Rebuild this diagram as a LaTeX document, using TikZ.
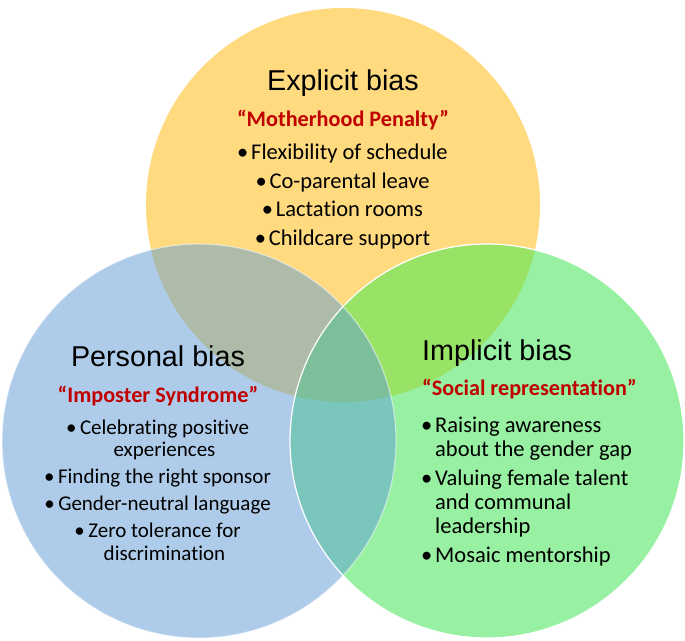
\documentclass[tikz,border=0pt]{standalone}
\usepackage{fontspec}
\setmainfont{Carlito}[Ligatures=NoCommon]
\newfontfamily\headfont{Liberation Sans}
\usetikzlibrary{positioning}
\definecolor{ylw}{HTML}{FFDA7F}
\definecolor{blu}{HTML}{AECCE9}
\definecolor{grn}{HTML}{98F0A2}
\definecolor{ylwblu}{HTML}{ADBBA8}
\definecolor{ylwgrn}{HTML}{98E266}
\definecolor{blugrn}{HTML}{7BC6BC}
\definecolor{allthree}{HTML}{7DBF9B}
\definecolor{quotered}{HTML}{C00000}
\newcommand{\bul}{\makebox[13pt][l]{\hspace{-1pt}•}}

\begin{document}
\begin{tikzpicture}[x=1pt, y=-1pt,
  title/.style={font=\headfont\fontsize{28.7}{32}\selectfont, inner sep=0pt, anchor=base},
  motto/.style={font=\bfseries\fontsize{22.2}{25}\selectfont, text=quotered, inner sep=0pt, anchor=base},
  items/.style={font=\fontsize{22.5}{24}\selectfont, inner sep=0pt, anchor=base},
  rim/.style={draw=white, line width=1.2pt}
]
\useasboundingbox (0,0) rectangle (685,640);
\def\rad{197pt}
\coordinate (ctop) at (343,205);
\coordinate (cleft) at (199,441);
\coordinate (cright) at (487,441);

% the three circles
\fill[ylw] (ctop) circle (\rad);
\fill[blu] (cleft) circle (\rad);
\fill[grn] (cright) circle (\rad);
% overlaps
\begin{scope}
  \clip (ctop) circle (\rad);
  \fill[ylwblu] (cleft) circle (\rad);
  \fill[ylwgrn] (cright) circle (\rad);
\end{scope}
\begin{scope}
  \clip (cleft) circle (\rad);
  \fill[blugrn] (cright) circle (\rad);
  \clip (ctop) circle (\rad);
  \fill[allthree] (cright) circle (\rad);
\end{scope}
\draw[rim, draw opacity=0.5] (cleft) circle (\rad);
\draw[rim] (cright) circle (\rad);

% explicit bias (list placed by its last baseline)
\node[title] (toptitle) at (343,90) {Explicit bias};
\node[motto] (topmotto) at (343,126) {“Motherhood Penalty”};
\node[items, align=center, font=\fontsize{22.5}{28.5}\selectfont] (toplist) at (343,245)
  {\bul Flexibility of schedule\\ \bul Co-parental leave\\ \bul Lactation rooms\\ \bul Childcare support};

% personal bias
\node[title] (lefttitle) at (158,366) {Personal bias};
\node[motto] (leftmotto) at (158,402) {“Imposter Syndrome”};
\node[items, align=center, font=\fontsize{21}{22.5}\selectfont] (leftlist) at (158,560)
  {\bul Celebrating positive\\ \hspace*{13pt}experiences\\[4.5pt]
   \bul Finding the right sponsor\\[4.5pt]
   \bul Gender-neutral language\\[4.5pt]
   \bul Zero tolerance for\\ \hspace*{13pt}discrimination};

% implicit bias
\node[title, anchor=base west] (righttitle) at (422,360) {Implicit bias};
\node[motto, anchor=base west] (rightmotto) at (422,395) {“Social representation”};
\node[items, align=left, anchor=base west] (rightlist) at (422,562)
  {\bul Raising awareness\\ \hspace*{13pt}about the gender gap\\[5pt]
   \bul Valuing female talent\\ \hspace*{13pt}and communal\\ \hspace*{13pt}leadership\\[5pt]
   \bul Mosaic mentorship};
\end{tikzpicture}
\end{document}
